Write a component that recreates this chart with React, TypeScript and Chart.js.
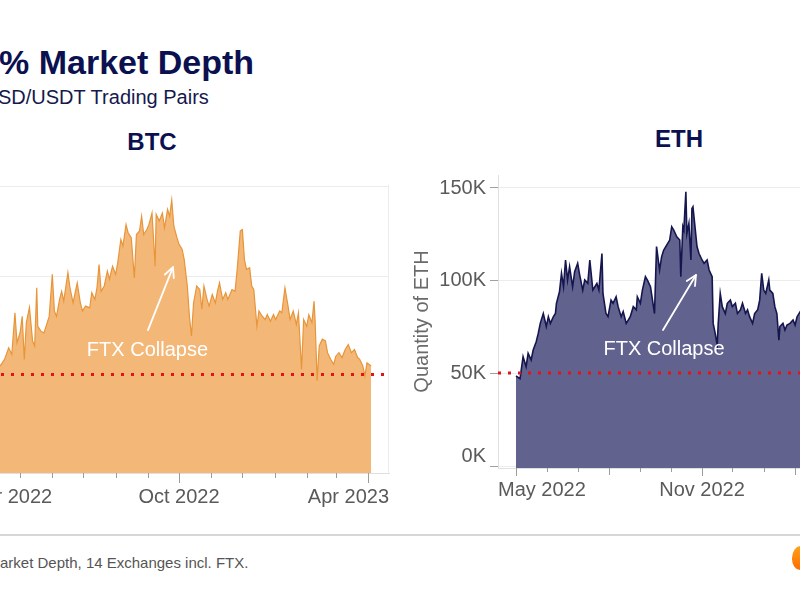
import React, { useEffect, useRef } from 'react';
import { Chart, registerables } from 'chart.js';

Chart.register(...registerables);

const FONT = '"Liberation Sans", Arial, Helvetica, sans-serif';
Chart.defaults.font.family = FONT;

// ---------- BTC (days since 2022-04-01, quantity of BTC) ----------
const btcDays = [
  0, 5, 11, 15, 19, 22, 25, 27, 30, 32,
  34, 36, 39, 42, 44, 46, 47, 50, 53, 55,
  58, 61, 63, 65, 68, 70, 72, 76, 78, 81,
  83, 85, 88, 90, 93, 97, 99, 102, 104, 106,
  108, 111, 114, 116, 119, 122, 124, 127, 129, 132,
  134, 137, 140, 142, 145, 147, 149, 152, 154, 157,
  160, 161, 164, 167, 169, 172, 174, 176, 178, 181,
  183, 186, 188, 191, 193, 195, 197, 200, 203, 205,
  207, 210, 212, 215, 218, 220, 222, 225, 228, 230,
  234, 237, 239, 242, 244, 246, 248, 251, 253, 255,
  258, 260, 263, 266, 268, 271, 274, 276, 280, 282,
  285, 288, 290, 293, 296, 298, 301, 303, 306, 308,
  311, 313, 314, 316, 318, 321, 324, 326, 329, 332,
  334, 337, 340, 343, 346, 349, 352, 355, 357, 360,
  362, 364, 368,
];
const btcValues = [
  1950, 2050, 2000, 2070, 2200, 2125, 2590, 2255, 2370, 2550,
  2070, 2480, 2650, 2275, 2220, 2870, 2440, 2385, 2365, 2440,
  2550, 3020, 2610, 2550, 2740, 2830, 2720, 3040, 2870, 2700,
  2815, 2925, 2700, 2610, 2665, 2645, 2815, 2740, 2870, 3130,
  2830, 2890, 3055, 2965, 3110, 3020, 3150, 3410, 3335, 3575,
  3485, 3430, 2980, 3465, 3505, 3670, 3465, 3520, 3575, 3705,
  3110, 3690, 3615, 3705, 3540, 3745, 3670, 3850, 3560, 3430,
  3355, 3300, 3185, 2890, 2555, 2330, 2700, 2890, 2850, 2630,
  2890, 2740, 2665, 2795, 2700, 2830, 2925, 2740, 2815, 2740,
  2850, 2830, 3075, 3505, 3520, 3185, 3075, 3095, 2890, 2850,
  2440, 2610, 2555, 2515, 2570, 2495, 2570, 2515, 2610, 2590,
  2870, 2665, 2515, 2610, 2460, 2590, 1960, 2515, 2440, 2570,
  2480, 2720, 2515, 1830, 2220, 2295, 2275, 2145, 2070, 2015,
  2105, 2145, 2090, 2180, 2235, 2145, 2180, 2090, 2070, 1995,
  1885, 2030, 1995,
];
const btcThreshold = 1900;
const btcGridValues = [3000, 4000];
const btcMonthTicks = [0, 30, 61, 91, 122, 153, 183, 214, 244, 275, 306, 334, 365];
const btcLabelDays = [0, 183, 365];
const btcLabels = ['Apr 2022', 'Oct 2022', 'Apr 2023'];

// ---------- ETH (days since 2022-05-01, thousands of ETH) ----------
const ethDays = [
  0, 4, 7, 10, 12, 15, 17, 20, 22, 24,
  27, 30, 32, 34, 37, 39, 40, 43, 45, 47,
  49, 51, 53, 56, 58, 61, 63, 66, 68, 71,
  73, 76, 78, 80, 82, 85, 86, 89, 91, 94,
  96, 99, 101, 104, 106, 109, 111, 113, 116, 119,
  120, 123, 125, 128, 130, 133, 135, 137, 139, 142,
  144, 146, 149, 152, 154, 156, 159, 162, 163, 165,
  166, 168, 169, 171, 173, 174, 175, 177, 179, 181,
  184, 186, 189, 191, 194, 195, 197, 199, 200, 202,
  204, 207, 209, 212, 214, 217, 219, 222, 224, 227,
  229, 231, 234, 236, 239, 241, 243, 245, 247, 250,
  251, 254, 256, 258, 260, 261, 264, 266, 268, 271,
  274, 276, 278, 281, 285,
];
const ethValues = [
  48.4, 47, 58.8, 53.4, 60.6, 57, 62.4, 66.8, 71.3, 76.7,
  82, 75, 80.3, 76.7, 80.3, 82, 87.5, 93.7, 103.6, 96.4,
  110.8, 100, 107.2, 96.4, 104.5, 109, 102.7, 94.6, 100, 98.2,
  110.8, 94.6, 96.4, 98.2, 94.6, 114.3, 92.8, 82, 80.3, 89.2,
  87.5, 91, 85.7, 80.3, 83, 76.7, 78.5, 80.3, 85.7, 84,
  91, 87.5, 94.6, 101.8, 100, 96.4, 89.2, 82, 118, 105.4,
  112.5, 116, 118.8, 121.5, 128.7, 126.9, 123.3, 121.5, 101.8, 128.7,
  126.9, 147.5, 125, 130.5, 110.8, 138.5, 139.4, 128.7, 118, 114.3,
  110.8, 109, 110.8, 105.4, 101.8, 76.7, 71.3, 65, 76.7, 92.8,
  85.7, 82, 87.5, 89.2, 85.7, 87.5, 82, 84, 87.5, 82,
  84, 80.3, 76.7, 82, 84, 89.2, 103.6, 94.6, 92.8, 100,
  94.6, 92.8, 85.7, 82, 67.7, 75, 76.7, 73.1, 75.8, 76.7,
  78.5, 75.8, 80.3, 83, 82,
];
const ethThreshold = 50;
const ethTickValues = [0, 50, 100, 150];
const ethTickLabels = ['0K', '50K', '100K', '150K'];
const ethMonthTicks = [0, 31, 61, 92, 123, 153, 184, 214, 245, 276, 304, 335];
const ethMediumTicks = [92, 276];
const ethLabelDays = [0, 184];
const ethLabels = ['May 2022', 'Nov 2022'];

// axis ranges
const BTC_X_MIN = -17.3;
const BTC_X_MAX = 385.2;
const BTC_Y_MIN = 800;
const BTC_Y_MAX = 4130;
const ETH_X_MIN = -17.8;
const ETH_X_MAX = 395.6;
const ETH_Y_MIN = -1.07;
const ETH_Y_MAX = 156.5;

type Note = { x: number; y: number; tailX: number; tailY: number; headX: number; headY: number; text: string };

const btcNote: Note = { x: 152.6, y: 2174, tailX: 153.1, tailY: 2397, headX: 177.2, headY: 3101, text: 'FTX Collapse' };
const ethNote: Note = { x: 146.4, y: 62.4, tailX: 145.4, tailY: 73.1, headX: 178, headY: 102.7, text: 'FTX Collapse' };

type OverlayCfg = {
  monthTicks: number[];
  mediumTicks: number[];
  labelDays: number[];
  labels: string[];
  minorLen: number;
  mediumLen: number;
  majorLen: number;
  labelGap: number;
  yTicks?: number[];
  yLabels?: string[];
  rightFrame?: boolean;
  note: Note;
};

function makeOverlay(cfg: OverlayCfg) {
  return {
    id: 'overlay',
    afterDraw(chart: any) {
      const ctx: CanvasRenderingContext2D = chart.ctx;
      const ca = chart.chartArea;
      const xs = chart.scales.x;
      const ys = chart.scales.y;
      ctx.save();

      if (cfg.rightFrame) {
        ctx.strokeStyle = '#ececec';
        ctx.lineWidth = 1;
        const rx = Math.round(ca.right) - 0.5;
        ctx.beginPath();
        ctx.moveTo(rx, ca.top + 10);
        ctx.lineTo(rx, ca.bottom);
        ctx.stroke();
      }

      // x tick marks
      ctx.strokeStyle = '#9c9c9c';
      ctx.lineWidth = 1;
      cfg.monthTicks.forEach((d) => {
        const px = Math.round(xs.getPixelForValue(d)) + 0.5;
        if (px < ca.left - 1 || px > ca.right + 1) return;
        let len = cfg.minorLen;
        if (cfg.labelDays.includes(d)) len = cfg.majorLen;
        else if (cfg.mediumTicks.includes(d)) len = cfg.mediumLen;
        ctx.beginPath();
        ctx.moveTo(px, ca.bottom);
        ctx.lineTo(px, ca.bottom + len);
        ctx.stroke();
      });

      // x labels (edge labels kept inside the plot width)
      ctx.font = `20px ${FONT}`;
      ctx.fillStyle = '#5a5a5a';
      ctx.textBaseline = 'middle';
      ctx.textAlign = 'left';
      cfg.labelDays.forEach((d, i) => {
        const t = cfg.labels[i];
        const w = ctx.measureText(t).width;
        let left = xs.getPixelForValue(d) - w / 2;
        left = Math.max(ca.left, Math.min(ca.right - w, left));
        ctx.fillText(t, left, ca.bottom + cfg.labelGap);
      });

      // y labels
      if (cfg.yTicks && cfg.yLabels) {
        ctx.textAlign = 'right';
        cfg.yTicks.forEach((v, i) => {
          let py = ys.getPixelForValue(v);
          py = Math.max(ca.top + 13, Math.min(ca.bottom - 12, py));
          ctx.fillText(cfg.yLabels![i], ca.left - 12, py);
        });
      }

      // annotation
      const n = cfg.note;
      const tx = xs.getPixelForValue(n.tailX);
      const ty = ys.getPixelForValue(n.tailY);
      const hx = xs.getPixelForValue(n.headX);
      const hy = ys.getPixelForValue(n.headY);
      ctx.strokeStyle = '#ffffff';
      ctx.lineWidth = 1.8;
      ctx.lineCap = 'round';
      ctx.lineJoin = 'round';
      ctx.beginPath();
      ctx.moveTo(tx, ty);
      ctx.lineTo(hx, hy);
      ctx.stroke();
      const ang = Math.atan2(hy - ty, hx - tx);
      const L = 11;
      const a = 0.45;
      ctx.beginPath();
      ctx.moveTo(hx - L * Math.cos(ang - a), hy - L * Math.sin(ang - a));
      ctx.lineTo(hx, hy);
      ctx.lineTo(hx - L * Math.cos(ang + a), hy - L * Math.sin(ang + a));
      ctx.stroke();
      ctx.fillStyle = '#ffffff';
      ctx.textAlign = 'center';
      ctx.textBaseline = 'middle';
      ctx.font = `20px ${FONT}`;
      ctx.fillText(n.text, xs.getPixelForValue(n.x), ys.getPixelForValue(n.y));

      ctx.restore();
    },
  };
}

function btcConfig(): any {
  const points = btcDays.map((d, i) => ({ x: d, y: btcValues[i] }));
  return {
    type: 'line',
    data: {
      datasets: [
        {
          data: [{ x: BTC_X_MIN, y: btcThreshold }, { x: BTC_X_MAX, y: btcThreshold }],
          borderColor: '#e3131b',
          borderWidth: 3,
          borderDash: [3, 7],
          borderCapStyle: 'butt',
          pointRadius: 0,
          fill: false,
          order: 0,
        },
        {
          data: points,
          borderColor: '#e8953a',
          borderWidth: 1.2,
          backgroundColor: '#f3b877',
          fill: 'start',
          pointRadius: 0,
          tension: 0,
          order: 1,
        },
      ],
    },
    options: {
      responsive: false,
      animation: false,
      devicePixelRatio: 1,
      events: [],
      layout: { padding: { top: 15, right: 11, left: 0, bottom: 0 } },
      plugins: { legend: { display: false }, tooltip: { enabled: false } },
      scales: {
        x: {
          type: 'linear',
          min: BTC_X_MIN,
          max: BTC_X_MAX,
          ticks: { display: false },
          grid: { display: false },
          border: { display: true, color: '#e0e0e0' },
          afterFit: (s: any) => { s.height = 47; },
        },
        y: {
          type: 'linear',
          min: BTC_Y_MIN,
          max: BTC_Y_MAX,
          ticks: { display: false },
          grid: { color: '#ececec', drawTicks: false },
          border: { display: false },
          afterFit: (s: any) => { s.width = 11; },
          afterBuildTicks: (s: any) => { s.ticks = btcGridValues.map((v) => ({ value: v })); },
        },
      },
    },
    plugins: [
      makeOverlay({
        monthTicks: btcMonthTicks,
        mediumTicks: [],
        labelDays: btcLabelDays,
        labels: btcLabels,
        minorLen: 5,
        mediumLen: 7,
        majorLen: 10,
        labelGap: 24,
        rightFrame: true,
        note: btcNote,
      }),
    ],
  };
}

function ethConfig(): any {
  const points = ethDays.map((d, i) => ({ x: d, y: ethValues[i] }));
  return {
    type: 'line',
    data: {
      datasets: [
        {
          data: [{ x: ETH_X_MIN, y: ethThreshold }, { x: ETH_X_MAX, y: ethThreshold }],
          borderColor: '#e3131b',
          borderWidth: 3,
          borderDash: [3, 7],
          borderCapStyle: 'butt',
          pointRadius: 0,
          fill: false,
          order: 0,
        },
        {
          data: points,
          borderColor: '#16164e',
          borderWidth: 1.6,
          backgroundColor: '#62628e',
          fill: 'start',
          pointRadius: 0,
          tension: 0,
          order: 1,
        },
      ],
    },
    options: {
      responsive: false,
      animation: false,
      devicePixelRatio: 1,
      events: [],
      layout: { padding: { top: 15, right: 4, left: 0, bottom: 0 } },
      plugins: { legend: { display: false }, tooltip: { enabled: false } },
      scales: {
        x: {
          type: 'linear',
          min: ETH_X_MIN,
          max: ETH_X_MAX,
          ticks: { display: false },
          grid: { display: false },
          border: { display: true, color: '#e0e0e0' },
          afterFit: (s: any) => { s.height = 52; },
        },
        y: {
          type: 'linear',
          min: ETH_Y_MIN,
          max: ETH_Y_MAX,
          ticks: { display: false },
          grid: { color: '#ececec', drawTicks: true, tickLength: 8, tickColor: '#a0a0a0' },
          border: { display: true, color: '#e0e0e0' },
          title: {
            display: true,
            text: 'Quantity of ETH',
            color: '#6a6a6a',
            font: { size: 20, family: FONT },
            padding: { top: 10, bottom: 0 },
          },
          afterFit: (s: any) => { s.width = 98; },
          afterBuildTicks: (s: any) => { s.ticks = ethTickValues.map((v) => ({ value: v })); },
        },
      },
    },
    plugins: [
      makeOverlay({
        monthTicks: ethMonthTicks,
        mediumTicks: ethMediumTicks,
        labelDays: ethLabelDays,
        labels: ethLabels,
        minorLen: 4,
        mediumLen: 7,
        majorLen: 8,
        labelGap: 22,
        yTicks: ethTickValues,
        yLabels: ethTickLabels,
        note: ethNote,
      }),
    ],
  };
}

function ChartCanvas(props: { make: () => any; left: number; top: number; width: number; height: number }) {
  const ref = useRef<HTMLCanvasElement>(null);
  useEffect(() => {
    const chart = new Chart(ref.current as HTMLCanvasElement, props.make());
    return () => chart.destroy();
  }, []);
  return (
    <canvas
      ref={ref}
      width={props.width}
      height={props.height}
      style={{ position: 'absolute', left: props.left, top: props.top, width: props.width, height: props.height }}
    />
  );
}

export default function App() {
  return (
    <div
      style={{
        position: 'fixed',
        left: 0,
        top: 0,
        width: 800,
        height: 600,
        overflow: 'hidden',
        background: '#ffffff',
        fontFamily: FONT,
      }}
    >
      <div style={{ position: 'absolute', left: -1, top: 45, fontSize: 34, lineHeight: '34px', fontWeight: 700, color: '#0b1150', whiteSpace: 'nowrap' }}>
        % Market Depth
      </div>
      <div style={{ position: 'absolute', left: -2, top: 87, fontSize: 20, lineHeight: '20px', color: '#15194d', whiteSpace: 'nowrap' }}>
        SD/USDT Trading Pairs
      </div>
      <div style={{ position: 'absolute', left: 102, width: 100, top: 130, textAlign: 'center', fontSize: 24, lineHeight: '24px', fontWeight: 700, color: '#0b1150' }}>
        BTC
      </div>
      <div style={{ position: 'absolute', left: 629, width: 100, top: 127, textAlign: 'center', fontSize: 24, lineHeight: '24px', fontWeight: 700, color: '#0b1150' }}>
        ETH
      </div>

      <ChartCanvas make={btcConfig} left={-40} top={160} width={440} height={360} />
      <ChartCanvas make={ethConfig} left={400} top={160} width={520} height={360} />

      <div style={{ position: 'absolute', left: 0, top: 534, width: 800, height: 2, background: '#d6d6d6' }} />
      <div style={{ position: 'absolute', left: 0, top: 555, fontSize: 15, lineHeight: '15px', color: '#555555', whiteSpace: 'nowrap' }}>
        arket Depth, 14 Exchanges incl. FTX.
      </div>
      <div
        style={{
          position: 'absolute',
          left: 792,
          top: 546,
          width: 18,
          height: 24,
          borderRadius: '50% 50% 45% 45%',
          background: 'linear-gradient(180deg, #ffa31a, #ff6b00)',
        }}
      />
    </div>
  );
}
